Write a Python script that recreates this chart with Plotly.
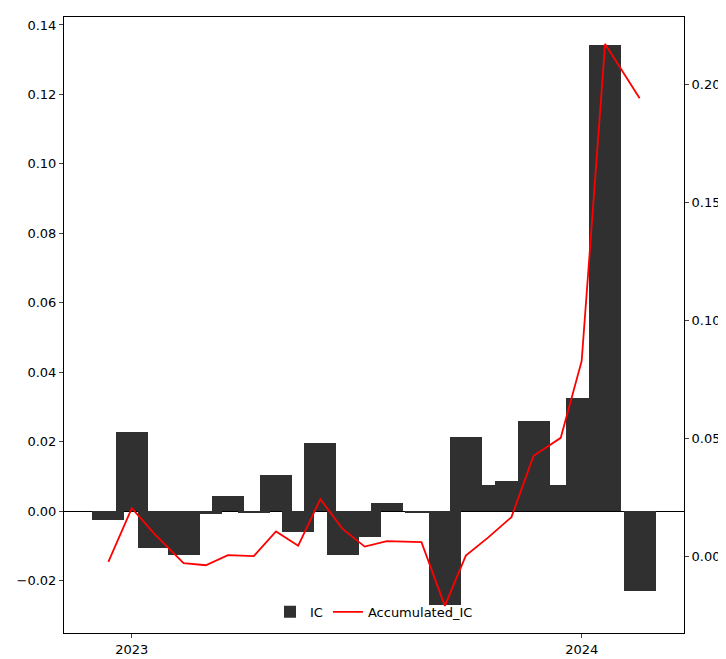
import plotly.graph_objects as go
import numpy as np

dates = ["2022-12-13", "2023-01-01", "2023-01-19", "2023-02-12", "2023-03-02", "2023-03-20",
         "2023-04-10", "2023-04-28", "2023-05-16", "2023-06-03", "2023-06-21", "2023-07-09",
         "2023-07-27", "2023-08-24", "2023-09-12", "2023-09-29", "2023-10-17", "2023-11-05",
         "2023-11-23", "2023-12-15", "2024-01-01", "2024-01-20", "2024-02-17"]
ic = [-0.0025, 0.0228, -0.0107, -0.0126, -0.0009, 0.0043, -0.0004, 0.0104, -0.0060, 0.0197,
      -0.0126, -0.0075, 0.0023, -0.0004, -0.0270, 0.0213, 0.0076, 0.0087, 0.0260, 0.0076,
      0.0326, 0.1343, -0.0230]
acc_ic = np.cumsum(ic)

fig = go.Figure()
fig.add_trace(go.Bar(x=dates, y=ic, name="IC", marker=dict(color="#303030", line=dict(width=0)),
                     width=26 * 86400000))
fig.add_trace(go.Scatter(x=dates, y=acc_ic, name="Accumulated_IC", mode="lines",
                         line=dict(color="red", width=1.8), yaxis="y2"))

fig.update_layout(
    width=726, height=659, plot_bgcolor="white", paper_bgcolor="white",
    margin=dict(l=56, r=50, t=9, b=34, autoexpand=False),
    font=dict(family="DejaVu Sans", size=13, color="black"),
    showlegend=True,
    legend=dict(orientation="h", x=0.5, xanchor="center", y=0.01, yanchor="bottom",
                bgcolor="rgba(0,0,0,0)", font=dict(size=13)),
    xaxis=dict(type="date", range=["2022-11-07", "2024-03-24"], automargin=False,
               tickvals=["2023-01-01", "2024-01-01"], ticktext=["2023", "2024"],
               showgrid=False, showline=True, linecolor="black", mirror=True,
               ticks="outside", ticklen=4, zeroline=False),
    yaxis=dict(range=[-0.0351, 0.1423], dtick=0.02, tickformat=".2f", showgrid=False,
               automargin=False,
               showline=True, linecolor="black", mirror=True, ticks="outside", ticklen=4,
               zeroline=True, zerolinecolor="black", zerolinewidth=1.2),
    yaxis2=dict(range=[-0.0326, 0.2284], dtick=0.05, tickformat=".2f", overlaying="y",
                side="right", showgrid=False, ticks="outside", ticklen=4, zeroline=False,
                automargin=False, showline=True, linecolor="black"),
    bargap=0,
)

fig.write_html("out.html")
